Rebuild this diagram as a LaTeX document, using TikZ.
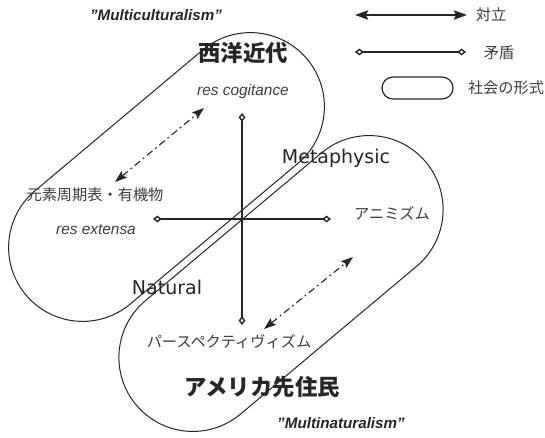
\documentclass[tikz,border=0pt]{standalone}
\usepackage{fontspec}
\setmainfont{Liberation Sans}
\newfontfamily\jpfont{Noto Sans CJK JP}
\newfontfamily\axisfont{DejaVu Sans}
\usetikzlibrary{arrows.meta,shapes.misc}
\definecolor{inkC}{HTML}{262626}
\definecolor{labC}{HTML}{3C3C3C}
\tikzset{
  society/.style={rounded rectangle, draw=inkC, line width=0.5pt, inner sep=0pt},
  contra/.style={{Diamond[open,length=4.4pt,width=3.4pt]}-{Diamond[open,length=4.4pt,width=3.4pt]}, draw=inkC, line width=0.7pt},
  oppose/.style={{Stealth[length=6.5pt,width=4.6pt,inset=1pt]}-{Stealth[length=6.5pt,width=4.6pt,inset=1pt]}, draw=inkC, line width=1.1pt},
  relate/.style={{Stealth[length=6pt,width=4.2pt,inset=1pt]}-{Stealth[length=6pt,width=4.2pt,inset=1pt]}, draw=inkC, line width=0.55pt,
                 dash pattern=on 3.5pt off 1.8pt on 0.9pt off 1.8pt},
  jp/.style={font=\jpfont\fontsize{7.6}{9}\selectfont, text=labC, inner sep=0pt},
  jpbig/.style={font=\jpfont\bfseries\fontsize{11.2}{13}\selectfont, text=inkC, inner sep=0pt},
  res/.style={font=\itshape\fontsize{7.7}{9}\selectfont, text=labC, inner sep=0pt},
  axis/.style={font=\axisfont\fontsize{9.5}{11}\selectfont, text=inkC, inner sep=0pt},
  multi/.style={font=\bfseries\itshape\fontsize{7.6}{9}\selectfont, text=inkC, inner sep=0pt},
}

\begin{document}
\begin{tikzpicture}[x=0.5pt,y=-0.5pt]
\useasboundingbox (0,0) rectangle (545,438);
\node[society, rotate=40, minimum width=183.5pt, minimum height=74pt] (modern) at (166.5,177) {};
\node[society, rotate=40, minimum width=189pt, minimum height=74pt] (amerind) at (281,283.5) {};
\node[multi] (mcult) at (156,15) {"Multiculturalism"};
\node[jpbig] (west) at (243,53) {西洋近代};
\node[res] (cogit) at (243,92) {res cogitance};
\node[jp] (period) at (95,195) {元素周期表・有機物};
\node[res] (extensa) at (96,230) {res extensa};
\node[axis] (meta) at (336,158) {Metaphysic};
\node[jp] (anim) at (392,213) {アニミズム};
\node[axis] (natural) at (167,287) {Natural};
\node[jp] (persp) at (229,342) {パースペクティヴィズム};
\node[jpbig] (native) at (262,387) {アメリカ先住民};
\node[multi] (mnat) at (341,423) {"Multinaturalism"};
\coordinate (xTop) at (242,113);
\coordinate (xBot) at (242,325);
\coordinate (xLeft) at (153,219);
\coordinate (xRight) at (331,219);
\draw[contra] (xTop) -- (xBot);
\draw[contra] (xLeft) -- (xRight);
\coordinate (dUpA) at (115,182);
\coordinate (dUpB) at (204,108);
\coordinate (dLoA) at (264,329);
\coordinate (dLoB) at (353,257);
\draw[relate] (dUpA) -- (dUpB);
\draw[relate] (dLoA) -- (dLoB);
\coordinate (legOppL) at (355,15);
\coordinate (legOppR) at (467,15);
\draw[oppose] (legOppL) -- (legOppR);
\node[jp] (oppLab) at (491,15) {対立};
\coordinate (legConL) at (355,52);
\coordinate (legConR) at (466,52);
\draw[contra] (legConL) -- (legConR);
\node[jp] (conLab) at (499,53) {矛盾};
\node[society, line width=0.6pt, minimum width=35.5pt, minimum height=11pt] (legSoc) at (417.5,88) {};
\node[jp] (socLab) at (506,88) {社会の形式};
\end{tikzpicture}
\end{document}
